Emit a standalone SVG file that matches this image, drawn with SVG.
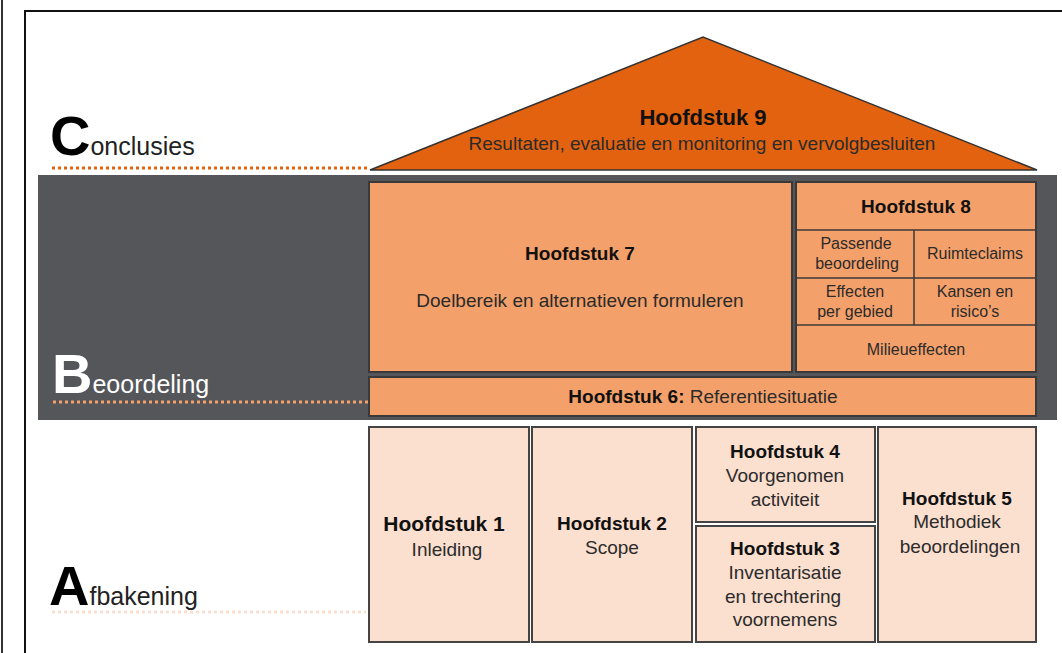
<svg xmlns="http://www.w3.org/2000/svg" width="1062" height="653" viewBox="0 0 1062 653">
<style>
text{font-family:"Liberation Sans",Arial,sans-serif;text-anchor:middle;fill:#2b2b2b}
.b{font-weight:bold;fill:#111}
.t19{font-size:19px}
.t16{font-size:16px}
.mid{fill:#f4a06a;stroke:#3a3a3a;stroke-width:2}
.low{fill:#fbdfcf;stroke:#444;stroke-width:2}
.big{font-size:56px;font-weight:bold;text-anchor:start}
.lbl{font-size:25px;text-anchor:start}
</style>
<rect width="1062" height="653" fill="#fff"/>
<line x1="2" y1="0" x2="2" y2="653" stroke="#333" stroke-width="2"/>
<path d="M25,653 V11 H1062" fill="none" stroke="#111" stroke-width="2"/>
<rect x="38" y="175" width="1019" height="245" fill="#55565a"/>
<g id="labels">
<line x1="52" y1="168" x2="370" y2="168" stroke="#e2620f" stroke-width="3" stroke-dasharray="3,3"/>
<text x="50" y="155" class="big" style="fill:#000">C<tspan class="lbl" style="font-weight:normal;fill:#222">onclusies</tspan></text>
<line x1="53" y1="402" x2="368" y2="402" stroke="#f4a06a" stroke-width="3" stroke-dasharray="3,3"/>
<text x="52" y="393" class="big" style="fill:#fff">B<tspan class="lbl" style="font-weight:normal;fill:#fff">eoordeling</tspan></text>
<line x1="52" y1="612" x2="366" y2="612" stroke="#fbdfcf" stroke-width="3" stroke-dasharray="3,3"/>
<text x="49" y="605" class="big" style="fill:#000">A<tspan class="lbl" style="font-weight:normal;fill:#222">fbakening</tspan></text>
</g>
<g id="hs9">
<polygon points="370,170 703,37 1037,170" fill="#e2620f" stroke="#333" stroke-width="1.5"/>
<text x="703" y="125" class="b" font-size="22">Hoofdstuk 9</text>
<text x="702" y="150" class="t19">Resultaten, evaluatie en monitoring en vervolgbesluiten</text>
</g>
<g id="hs7">
<rect x="369" y="182" width="423" height="190" class="mid"/>
<text x="580" y="260" class="b t19">Hoofdstuk 7</text>
<text x="580" y="307" class="t19">Doelbereik en alternatieven formuleren</text>
</g>
<g id="hs8">
<rect x="796" y="182" width="240" height="190" class="mid"/>
<line x1="796" y1="230" x2="1036" y2="230" stroke="#3a3a3a" stroke-width="1.5"/>
<line x1="796" y1="278" x2="1036" y2="278" stroke="#3a3a3a" stroke-width="1.5"/>
<line x1="796" y1="325" x2="1036" y2="325" stroke="#3a3a3a" stroke-width="1.5"/>
<line x1="914" y1="230" x2="914" y2="325" stroke="#3a3a3a" stroke-width="1.5"/>
<text x="916" y="213" class="b t19">Hoofdstuk 8</text>
<text x="856" y="249" class="t16">Passende</text>
<text x="857" y="269" class="t16">beoordeling</text>
<text x="975" y="259" class="t16">Ruimteclaims</text>
<text x="855" y="297" class="t16">Effecten</text>
<text x="855" y="317" class="t16">per gebied</text>
<text x="975" y="297" class="t16">Kansen en</text>
<text x="975" y="317" class="t16">risico’s</text>
<text x="916" y="355" class="t16">Milieueffecten</text>
</g>
<g id="hs6">
<rect x="369" y="377" width="667" height="39" class="mid"/>
<text x="703" y="403" class="t19"><tspan class="b">Hoofdstuk 6:</tspan> Referentiesituatie</text>
</g>
<g id="hs1">
<rect x="369" y="427" width="160" height="215" class="low"/>
<text x="444" y="531" class="b" font-size="21">Hoofdstuk 1</text>
<text x="447" y="556" class="t19">Inleiding</text>
</g>
<g id="hs2">
<rect x="532" y="427" width="160" height="215" class="low"/>
<text x="612" y="530" class="b t19">Hoofdstuk 2</text>
<text x="612" y="554" class="t19">Scope</text>
</g>
<g id="hs4">
<rect x="696" y="427" width="179" height="95" class="low"/>
<text x="785" y="458" class="b t19">Hoofdstuk 4</text>
<text x="785" y="482" class="t19">Voorgenomen</text>
<text x="785" y="506" class="t19">activiteit</text>
</g>
<g id="hs3">
<rect x="696" y="526" width="179" height="116" class="low"/>
<text x="785" y="555" class="b t19">Hoofdstuk 3</text>
<text x="785" y="579" class="t19">Inventarisatie</text>
<text x="783" y="603" class="t19">en trechtering</text>
<text x="785" y="626" class="t19">voornemens</text>
</g>
<g id="hs5">
<rect x="878" y="427" width="158" height="215" class="low"/>
<text x="957" y="505" class="b t19">Hoofdstuk 5</text>
<text x="957" y="528" class="t19">Methodiek</text>
<text x="960" y="553" class="t19">beoordelingen</text>
</g>
<g id="connectors"></g>
</svg>
